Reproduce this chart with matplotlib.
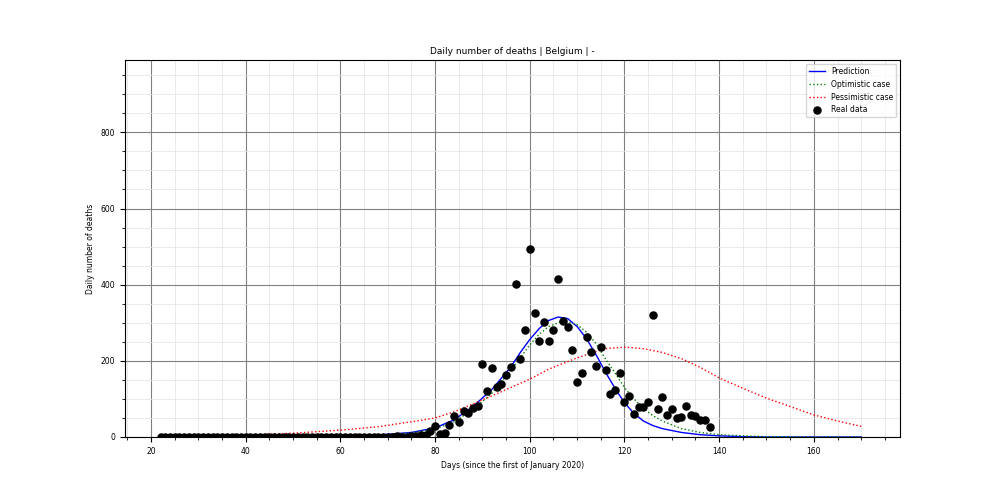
import matplotlib
matplotlib.use("Agg")
import matplotlib.pyplot as plt
from matplotlib.ticker import AutoMinorLocator

# Observed daily deaths (day index since 1 Jan 2020)
real_days = list(range(22, 139))
real_vals = ([0] * 49 + [1, 3, 1, 1, 2, 3, 4, 5, 16, 30, 8, 11, 32, 55, 40, 68, 63, 76, 82,
             192, 121, 181, 132, 139, 163, 184, 402, 205, 281, 494, 326, 252, 302, 252,
             281, 415, 305, 290, 229, 145, 168, 263, 224, 187, 237, 176, 113, 124, 168,
             92, 108, 61, 79, 79, 92, 320, 74, 105, 58, 74, 50, 52, 81, 58, 55, 45, 45, 26])

pred_days = [22, 40, 50, 60, 65, 70, 75, 80, 84, 88, 92, 96, 98, 100, 102, 104, 106, 108,
             110, 112, 114, 116, 118, 120, 122, 124, 126, 128, 132, 136, 140, 145, 150, 160, 170]
pred_vals = [0, 0, 1, 2, 4, 7, 12, 24, 45, 80, 125, 184, 222, 256, 285, 306, 315, 311,
             290, 258, 216, 170, 128, 90, 62, 42, 30, 22, 12, 6, 3, 1, 0, 0, 0]

opt_days = [22, 50, 60, 70, 75, 80, 84, 88, 92, 96, 98, 100, 102, 104, 107, 110, 112, 114,
            116, 118, 120, 122, 124, 126, 128, 132, 136, 140, 145, 150, 160, 170]
opt_vals = [0, 1, 2, 6, 11, 21, 40, 72, 115, 175, 208, 242, 270, 290, 305, 295, 275, 245,
            205, 168, 130, 100, 75, 56, 42, 22, 12, 6, 3, 1, 0, 0]

pess_days = [22, 30, 40, 50, 60, 68, 75, 80, 84, 88, 92, 96, 100, 104, 110, 116, 120,
             124, 128, 132, 136, 140, 145, 150, 155, 160, 165, 170]
pess_vals = [1, 2, 5, 10, 18, 27, 40, 50, 66, 87, 108, 130, 152, 178, 208, 232, 236,
             232, 222, 206, 183, 155, 128, 102, 80, 58, 42, 28]

fig, ax = plt.subplots(figsize=(10, 5), dpi=100)
fig.subplots_adjust(left=0.125, right=0.9, bottom=0.126, top=0.88)
ax.plot(pred_days, pred_vals, color="blue", linewidth=1, label="Prediction")
ax.plot(opt_days, opt_vals, color="green", linestyle=":", linewidth=1, label="Optimistic case")
ax.plot(pess_days, pess_vals, color="red", linestyle=":", linewidth=1, label="Pessimistic case")
ax.scatter(real_days, real_vals, color="black", s=26, zorder=3, label="Real data")

ax.set_xlim(14.5, 178.2)
ax.set_ylim(0, 990)
ax.xaxis.set_minor_locator(AutoMinorLocator(4))
ax.yaxis.set_minor_locator(AutoMinorLocator(4))
ax.grid(True, which="major", color="gray", linewidth=0.8)
ax.grid(True, which="minor", color="#e6e6e6", linewidth=0.6)
ax.tick_params(labelsize=5.5)
ax.set_xlabel("Days (since the first of January 2020)", fontsize=5.5)
ax.set_ylabel("Daily number of deaths", fontsize=5.5)
ax.set_title("Daily number of deaths | Belgium | -", fontsize=6.5, pad=4)
ax.legend(loc="upper right", fontsize=5.5)
fig.savefig("out.png", dpi=100)
